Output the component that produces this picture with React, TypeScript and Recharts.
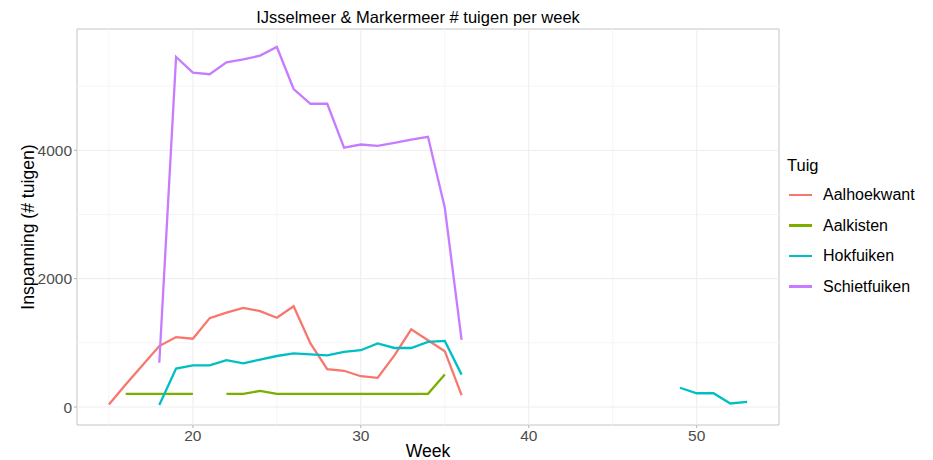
import React from "react";
import { LineChart, Line, XAxis, YAxis, ReferenceLine, ReferenceArea } from "recharts";

const weeks = [15,16,17,18,19,20,21,22,23,24,25,26,27,28,29,30,31,32,33,34,35,36,37,38,39,40,41,42,43,44,45,46,47,48,49,50,51,52,53];

// values start at the given week; null = no observation
const aalhoekwantStart = 15;
const aalhoekwant = [40, 350, 650, 950, 1090, 1065, 1385, 1470, 1545, 1495, 1390, 1570, 990, 590, 565, 480, 455, 805, 1210, 1040, 870, 185];
const aalkistenStart = 16;
const aalkisten = [205, 205, 205, 205, 205, null, 205, 205, 250, 205, 205, 205, 205, 205, 205, 205, 205, 205, 205, 505];
const hokfuikenStart = 18;
const hokfuiken = [30, 600, 650, 650, 730, 680, 740, 795, 835, 820, 805, 860, 885, 990, 920, 920, 1015, 1030, 505,
  null, null, null, null, null, null, null, null, null, null, null, null, 300, 215, 215, 55, 80];
const schietfuikenStart = 18;
const schietfuiken = [690, 5455, 5210, 5185, 5370, 5415, 5475, 5610, 4955, 4725, 4725, 4040, 4090, 4070, 4115, 4165, 4210, 3105, 1045];

const seriesNames = ["Aalhoekwant", "Aalkisten", "Hokfuiken", "Schietfuiken"];
const seriesColors = ["#F8766D", "#7CAE00", "#00BFC4", "#C77CFF"];
const seriesDefs: [number, (number | null)[]][] = [
  [aalhoekwantStart, aalhoekwant],
  [aalkistenStart, aalkisten],
  [hokfuikenStart, hokfuiken],
  [schietfuikenStart, schietfuiken],
];

const xTicks = [20, 30, 40, 50];
const xMinor = [15, 25, 35, 45];
const yTicks = [0, 2000, 4000];
const yMinor = [1000, 3000, 5000];
const xDomain = [13.1, 54.9];
const yDomain = [-280, 5890];

const data = weeks.map((w) => {
  const row: any = { week: w };
  seriesNames.forEach((name, k) => {
    const [start, vals] = seriesDefs[k];
    const idx = w - start;
    row[name] = idx >= 0 && idx < vals.length ? vals[idx] : null;
  });
  return row;
});

const FONT = "'Liberation Sans', Arial, sans-serif";

export default function App() {
  return (
    <div style={{ position: "absolute", left: 0, top: 0, width: 933, height: 460, background: "#fff", fontFamily: FONT }}>
      <LineChart width={933} height={460} data={data} margin={{ top: 29, right: 154, left: 0, bottom: 0 }}>
        <XAxis
          dataKey="week"
          type="number"
          domain={xDomain}
          ticks={xTicks}
          allowDataOverflow
          height={35}
          axisLine={false}
          tickLine={{ stroke: "#b3b3b3" }}
          tickSize={3}
          tickMargin={2}
          tick={{ fill: "#4d4d4d", fontSize: 15.5, fontFamily: FONT }}
        />
        <YAxis
          type="number"
          domain={yDomain}
          ticks={yTicks}
          allowDataOverflow
          width={77}
          axisLine={false}
          tickLine={{ stroke: "#b3b3b3" }}
          tickSize={3}
          tickMargin={2}
          tick={{ fill: "#4d4d4d", fontSize: 15.5, fontFamily: FONT }}
        />
        {xMinor.map((v) => (
          <ReferenceLine key={"xm" + v} x={v} stroke="#f5f5f5" strokeWidth={1} />
        ))}
        {yMinor.map((v) => (
          <ReferenceLine key={"ym" + v} y={v} stroke="#f5f5f5" strokeWidth={1} />
        ))}
        {xTicks.map((v) => (
          <ReferenceLine key={"xM" + v} x={v} stroke="#ededed" strokeWidth={1} />
        ))}
        {yTicks.map((v) => (
          <ReferenceLine key={"yM" + v} y={v} stroke="#ededed" strokeWidth={1} />
        ))}
        <ReferenceArea
          x1={xDomain[0]}
          x2={xDomain[1]}
          y1={yDomain[0]}
          y2={yDomain[1]}
          ifOverflow="visible"
          fill="#ffffff"
          fillOpacity={0}
          stroke="#c4c4c4"
          strokeWidth={1}
        />
        {seriesNames.map((name, k) => (
          <Line
            key={name}
            dataKey={name}
            type="linear"
            stroke={seriesColors[k]}
            strokeWidth={2.3}
            dot={false}
            activeDot={false}
            connectNulls={false}
            isAnimationActive={false}
          />
        ))}
      </LineChart>

      <div style={{ position: "absolute", left: 0, width: 836, top: 7, textAlign: "center", fontSize: 16.5, color: "#000", lineHeight: "20px" }}>
        IJsselmeer &amp; Markermeer # tuigen per week
      </div>
      <div style={{ position: "absolute", left: 77, width: 702, top: 440, textAlign: "center", fontSize: 17.6, color: "#000", lineHeight: "22px" }}>
        Week
      </div>
      <div
        style={{
          position: "absolute",
          left: 28 - 150,
          top: 227 - 11,
          width: 300,
          height: 22,
          lineHeight: "22px",
          textAlign: "center",
          fontSize: 17.6,
          color: "#000",
          transform: "rotate(-90deg)",
        }}
      >
        Inspanning (# tuigen)
      </div>

      <div style={{ position: "absolute", left: 787, top: 155, fontSize: 16.5, lineHeight: "20px", color: "#000" }}>Tuig</div>
      {seriesNames.map((name, k) => (
        <div key={name} style={{ position: "absolute", left: 789, top: 195 + k * 30.5 - 10, height: 20, display: "flex", alignItems: "center" }}>
          <div style={{ width: 23, height: 2.3, background: seriesColors[k] }} />
          <div style={{ marginLeft: 11, fontSize: 16, lineHeight: "20px", color: "#000" }}>{name}</div>
        </div>
      ))}
    </div>
  );
}
